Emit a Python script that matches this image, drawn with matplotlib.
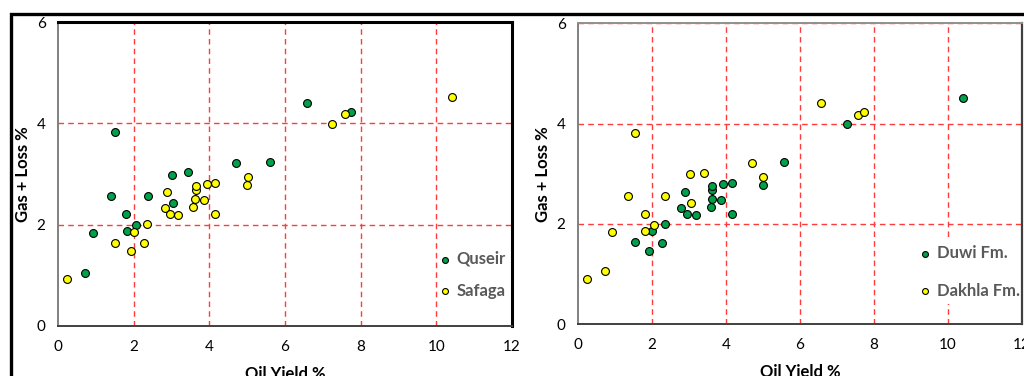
import matplotlib
matplotlib.use('Agg')
import matplotlib.pyplot as plt
from matplotlib.patches import Rectangle

# left panel: by locality
quseir_x = [0.71, 0.92, 1.39, 1.51, 1.80, 1.82, 2.05, 2.39, 3.02, 3.05, 3.43, 4.71, 5.60, 6.59, 7.74]
quseir_y = [1.05, 1.83, 2.56, 3.83, 2.21, 1.87, 2.00, 2.56, 2.99, 2.42, 3.04, 3.21, 3.23, 4.40, 4.23]
safaga_x = [0.24, 1.51, 1.93, 2.00, 2.28, 2.34, 2.82, 2.89, 2.95, 3.18, 3.58, 3.62,
            3.65, 3.65, 3.87, 3.93, 4.14, 4.16, 4.99, 5.03, 7.25, 7.58, 10.41]
safaga_y = [0.92, 1.63, 1.48, 1.85, 1.63, 2.02, 2.32, 2.64, 2.21, 2.18, 2.35, 2.51,
            2.68, 2.76, 2.49, 2.80, 2.21, 2.83, 2.78, 2.95, 3.99, 4.19, 4.52]

# right panel: by formation
duwi_x = [1.53, 1.92, 1.99, 2.27, 2.34, 2.79, 2.89, 2.95, 3.19, 3.60, 3.63,
          3.63, 3.63, 3.86, 3.93, 4.15, 4.15, 5.00, 5.58, 7.27, 10.41]
duwi_y = [1.64, 1.46, 1.86, 1.62, 2.00, 2.31, 2.63, 2.20, 2.17, 2.34, 2.50,
          2.67, 2.75, 2.48, 2.79, 2.20, 2.82, 2.77, 3.23, 4.00, 4.50]
dakhla_x = [0.23, 0.72, 0.91, 1.36, 1.53, 1.82, 1.82, 2.05, 2.36, 3.02, 3.05,
            3.41, 4.71, 5.00, 6.58, 7.56, 7.73]
dakhla_y = [0.89, 1.06, 1.83, 2.55, 3.81, 2.20, 1.86, 1.98, 2.55, 2.99, 2.41,
            3.01, 3.21, 2.94, 4.41, 4.17, 4.24]

x_ticks = [0, 2, 4, 6, 8, 10, 12]
y_ticks = [0, 2, 4, 6]

GREEN = '#00A14B'
YELLOW = '#FFFF00'
RED = '#FF3B3B'

plt.rcParams['font.family'] = ['Lato', 'DejaVu Sans']


def setup_axes(ax):
    ax.set_xlim(0, 12)
    ax.set_ylim(0, 6)
    ax.set_xticks(x_ticks)
    ax.set_yticks(y_ticks)
    ax.tick_params(length=0, labelsize=11, pad=10, colors='black')
    ax.tick_params(axis='y', pad=9)
    for xv in x_ticks[1:-1]:
        ax.axvline(xv, color=RED, lw=1.0, ls=(0, (4, 3)), zorder=1)
    for yv in y_ticks[1:]:
        ax.axhline(yv, color=RED, lw=1.0, ls=(0, (4, 3)), zorder=1)
    ax.spines['left'].set_color('#808080')
    ax.spines['left'].set_linewidth(1.4)
    ax.spines['bottom'].set_color('#404040')
    ax.spines['bottom'].set_linewidth(1.4)
    ax.set_xlabel('Oil Yield %', fontsize=12, fontweight='bold', labelpad=9)
    ax.set_ylabel('Gas + Loss %', fontsize=12, fontweight='bold', labelpad=4)


def draw_panel(ax, x1, y1, lab1, x2, y2, lab2, leg_x, leg_y, spacing):
    setup_axes(ax)
    ax.scatter(x1, y1, s=32, c=GREEN, edgecolors='black', linewidths=0.8,
               zorder=3, label=lab1)
    ax.scatter(x2, y2, s=32, c=YELLOW, edgecolors='black', linewidths=0.8,
               zorder=3, label=lab2)
    leg = ax.legend(loc='lower left', bbox_to_anchor=(leg_x, leg_y), frameon=False,
                    prop={'weight': 'bold', 'size': 12}, handletextpad=0.1,
                    markerscale=0.75, labelspacing=spacing, borderpad=0.3,
                    handlelength=1.2)
    for t in leg.get_texts():
        t.set_color('#595959')
    return leg


fig = plt.figure(figsize=(10.24, 3.76), dpi=100)

ax1 = fig.add_axes([58 / 1024, 1 - 325.7 / 376, (512 - 58) / 1024, (325.7 - 22.3) / 376])
draw_panel(ax1, quseir_x, quseir_y, 'Quseir', safaga_x, safaga_y, 'Safaga', 0.80, 0.045, 0.95)
for side in ['top', 'right']:
    ax1.spines[side].set_color('black')
    ax1.spines[side].set_linewidth(2.2)

ax2 = fig.add_axes([578 / 1024, 1 - 324 / 376, (1022 - 578) / 1024, (324 - 23.3) / 376])
leg2 = draw_panel(ax2, duwi_x, duwi_y, 'Duwi Fm.', dakhla_x, dakhla_y, 'Dakhla Fm.', 0.73, 0.04, 1.3)
leg2.set_frame_on(True)
leg2.get_frame().set_facecolor('white')
leg2.get_frame().set_edgecolor('none')
leg2.get_frame().set_alpha(1)
leg2.set_zorder(2)
ax2.spines['top'].set_color('#909090')
ax2.spines['top'].set_linewidth(1.4)
ax2.spines['right'].set_color('#404040')
ax2.spines['right'].set_linewidth(1.6)

# outer frame (cropped)
fig.add_artist(Rectangle((10.5 / 1024, -0.2), 1.2, 1.2 - 14 / 376,
                         transform=fig.transFigure, fill=False,
                         edgecolor='black', linewidth=2.4, zorder=10))

fig.savefig('out.png', dpi=100)
